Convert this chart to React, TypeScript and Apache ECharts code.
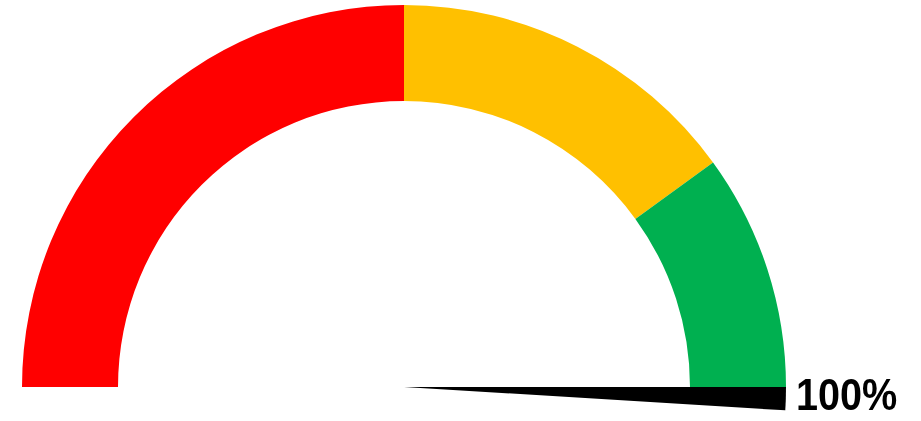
import React, { useEffect, useRef } from "react";
import * as echarts from "echarts";

// Data
const bandNames = ["Low", "Medium", "High"];
const bandValues = [50, 30, 20]; // percent of the half circle
const needleValue = 100; // percent
const needleWidthDeg = 3.5;

const bandColors = ["#FF0000", "#FFC000", "#00B050"];

export default function App() {
  const ref = useRef<HTMLDivElement>(null);
  useEffect(() => {
    if (!ref.current) return;
    const chart = echarts.init(ref.current, null, { renderer: "svg" });
    const total = bandValues.reduce((a, b) => a + b, 0);
    const hidden = { color: "rgba(0,0,0,0)" };
    const cx = 404;
    const cy = 387;
    const rOuter = 382;
    const rInner = 286;
    const needleStart = (180 * needleValue) / 100;
    chart.setOption({
      animation: false,
      series: [
        {
          type: "pie",
          silent: true,
          center: [cx, cy],
          radius: [rInner, rOuter],
          startAngle: 180,
          clockwise: true,
          label: { show: false },
          labelLine: { show: false },
          emphasis: { disabled: true },
          itemStyle: { borderWidth: 0 },
          data: [
            ...bandValues.map((v, i) => ({
              name: bandNames[i],
              value: v,
              itemStyle: { color: bandColors[i], borderWidth: 0 },
            })),
            { name: "blank", value: total, itemStyle: { ...hidden, borderWidth: 0 } },
          ],
        },
        {
          type: "pie",
          silent: true,
          center: [cx, cy],
          radius: [0, rOuter],
          startAngle: 180,
          clockwise: true,
          label: { show: false },
          labelLine: { show: false },
          emphasis: { disabled: true },
          itemStyle: { borderWidth: 0 },
          data: [
            { name: "before", value: needleStart, itemStyle: { ...hidden, borderWidth: 0 } },
            { name: "needle", value: needleWidthDeg, itemStyle: { color: "#000000", borderWidth: 0 } },
            {
              name: "after",
              value: 360 - needleStart - needleWidthDeg,
              itemStyle: { ...hidden, borderWidth: 0 },
            },
          ],
        },
      ],
      graphic: [
        {
          type: "text",
          x: 796,
          y: 395,
          scaleX: 0.88,
          style: {
            text: `${needleValue}%`,
            fill: "#000000",
            font: 'bold 45px "Liberation Sans", Arial, sans-serif',
            verticalAlign: "middle",
            align: "left",
          },
        },
      ],
    });
    return () => chart.dispose();
  }, []);
  return (
    <div
      ref={ref}
      style={{ position: "fixed", left: 0, top: 0, width: 921, height: 421 }}
    />
  );
}
